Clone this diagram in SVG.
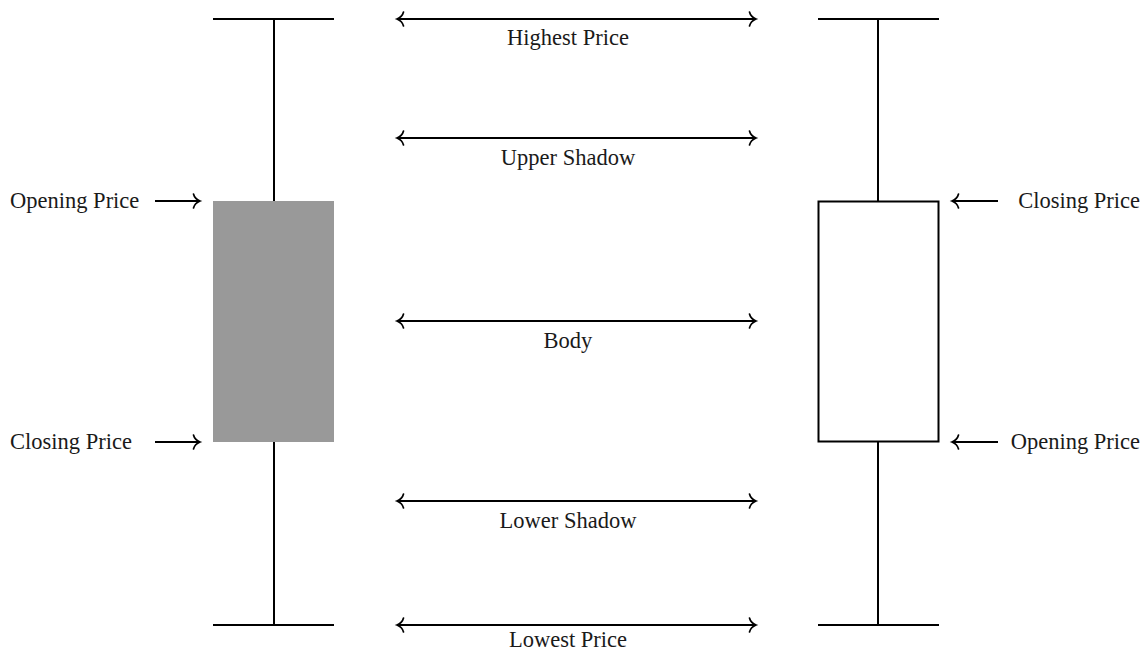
<svg xmlns="http://www.w3.org/2000/svg" width="1145" height="652" viewBox="0 0 1145 652">
<defs>
<marker id="ah" markerUnits="userSpaceOnUse" viewBox="-9 -9 11 18" markerWidth="11" markerHeight="18" refX="0" refY="0" orient="auto-start-reverse" overflow="visible">
<path d="M -6.5,-7 C -5.5,-3 -2,-0.8 0,0 C -2,0.8 -5.5,3 -6.5,7" fill="none" stroke="#000" stroke-width="1.7" stroke-linecap="round"/>
</marker>
</defs>
<style>
.ln{stroke:#000;stroke-width:2;fill:none}
.ar{stroke:#000;stroke-width:2;fill:none;marker-end:url(#ah)}
.dar{stroke:#000;stroke-width:2;fill:none;marker-start:url(#ah);marker-end:url(#ah)}
text{font-family:"Liberation Serif","Times New Roman",serif;font-size:22.5px;fill:#1a1a1a}
.c{text-anchor:middle}
.e{text-anchor:end}
</style>
<rect width="1145" height="652" fill="#fff"/>
<g id="bearish">
<line class="ln" x1="274" y1="19" x2="274" y2="625"/>
<line class="ln" x1="213" y1="19" x2="334" y2="19"/>
<line class="ln" x1="213" y1="625" x2="334" y2="625"/>
<rect x="213" y="201" width="121" height="241" fill="#999"/>
</g>
<g id="bullish">
<line class="ln" x1="878" y1="19" x2="878" y2="201"/>
<line class="ln" x1="878" y1="442" x2="878" y2="625"/>
<line class="ln" x1="818" y1="19" x2="939" y2="19"/>
<line class="ln" x1="818" y1="625" x2="939" y2="625"/>
<rect x="818.5" y="201.5" width="120" height="240" fill="#fff" stroke="#000" stroke-width="2"/>
</g>
<g id="connectors">
<line class="dar" x1="397" y1="19" x2="756" y2="19"/>
<line class="dar" x1="397" y1="138" x2="756" y2="138"/>
<line class="dar" x1="397" y1="321" x2="756" y2="321"/>
<line class="dar" x1="397" y1="501" x2="756" y2="501"/>
<line class="dar" x1="397" y1="625" x2="756" y2="625"/>
<line class="ar" x1="155" y1="201" x2="200" y2="201"/>
<line class="ar" x1="155" y1="442" x2="200" y2="442"/>
<line class="ar" x1="998" y1="201" x2="952" y2="201"/>
<line class="ar" x1="998" y1="442" x2="952" y2="442"/>
</g>
<g id="labels">
<text class="c" x="568" y="45">Highest Price</text>
<text class="c" x="568" y="165">Upper Shadow</text>
<text class="c" x="568" y="348">Body</text>
<text class="c" x="568" y="528">Lower Shadow</text>
<text class="c" x="568" y="647">Lowest Price</text>
<text x="10" y="208">Opening Price</text>
<text x="10" y="449">Closing Price</text>
<text class="e" x="1140" y="208">Closing Price</text>
<text class="e" x="1140" y="449">Opening Price</text>
</g>
</svg>
